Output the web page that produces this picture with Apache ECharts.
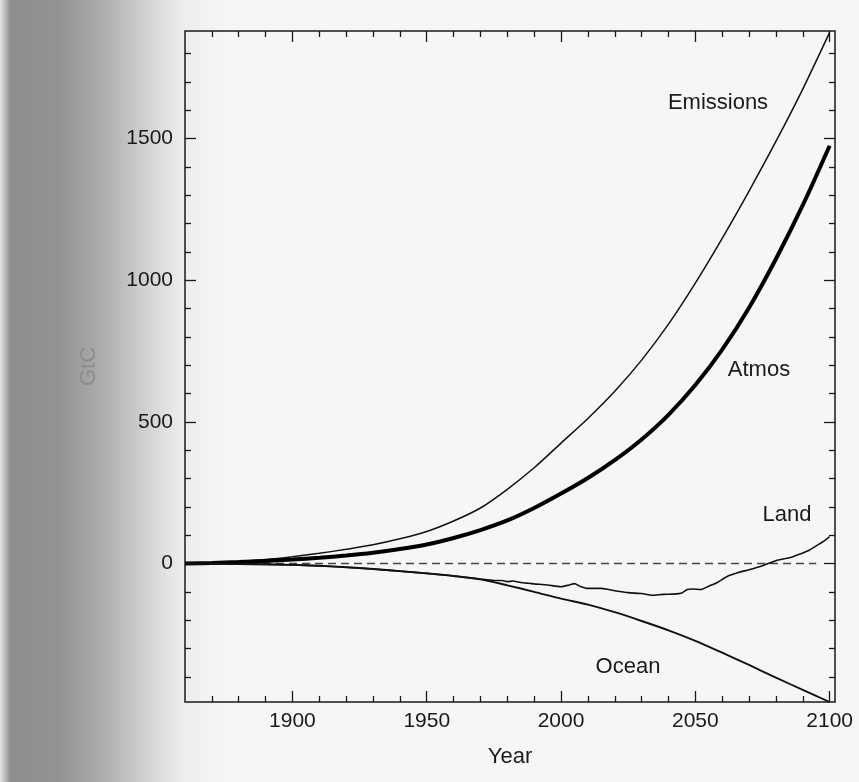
<!DOCTYPE html>
<html><head><meta charset="utf-8">
<script src="https://cdn.jsdelivr.net/npm/echarts@6/dist/echarts.min.js"></script>
<style>html,body{margin:0;padding:0;background:#fff}#c{width:859px;height:782px}</style>
</head><body><div id="c"></div>
<script>
// ---- data ----
const years = [1860,1870,1880,1890,1900,1910,1920,1930,1940,1950,1960,1970,1980,1990,2000,2010,2020,2030,2040,2050,2060,2070,2080,2090,2100];
const emissions = [0,3,7,14,24,36,50,66,87,113,150,196,262,338,425,512,608,718,845,990,1148,1315,1490,1675,1875];
const atmos = [0,2,5,9,14,20,28,38,51,67,90,118,152,196,247,302,365,438,525,630,755,903,1075,1265,1475];
const ocean = [0,-1,-2,-3,-5,-8,-13,-19,-27,-35,-44,-56,-77,-100,-124,-145,-172,-203,-236,-273,-315,-358,-403,-446,-489];
const landYears = [1860,1880,1900,1920,1940,1950,1960,1970,1975,1978,1980,1982,1985,1988,1990,1995,2000,2003,2005,2007,2010,2015,2020,2025,2030,2034,2038,2042,2045,2047,2049,2052,2055,2058,2062,2066,2070,2075,2080,2085,2088,2092,2095,2098,2100];
const land = [0,-2,-5,-13,-27,-35,-44,-55,-60,-60,-64,-62,-67,-70,-72,-76,-82,-76,-71,-80,-88,-88,-96,-103,-106,-112,-109,-108,-104,-92,-90,-92,-80,-68,-45,-32,-22,-8,10,20,30,45,62,80,95];
const zeroYears = [1860, 2095];
const zeroVals = [0, 0];
const xMajorTicks = [1900,1950,2000,2050,2100];
const xMinorTicks = [1870,1880,1890,1910,1920,1930,1940,1960,1970,1980,1990,2010,2020,2030,2040,2060,2070,2080,2090];
const yMajorTicks = [0,500,1000,1500];
const yMinorTicks = [-400,-300,-200,-100,100,200,300,400,600,700,800,900,1100,1200,1300,1400,1600,1700,1800];
const labels = [
  {text:'Emissions', x:718, y:103},
  {text:'Atmos', x:759, y:370},
  {text:'Land', x:787, y:515},
  {text:'Ocean', x:628, y:667}
];

const X_MIN = 1860, X_MAX = 2102, Y_MIN = -489, Y_MAX = 1880;
const FONT = '"Liberation Sans", Arial, sans-serif';
const pairs = (xs, ys) => xs.map((x, i) => [x, ys[i]]);

function xAx(pos, ticks, len, showLabel, name) {
  return {
    type: 'value', position: pos, min: X_MIN, max: X_MAX,
    name: name || '', nameLocation: 'middle', nameGap: 44,
    nameTextStyle: {fontFamily: FONT, fontSize: 22, color: '#1a1a1a'},
    axisLine: {show: false, onZero: false}, splitLine: {show: false},
    axisTick: {show: true, inside: true, length: len, customValues: ticks, lineStyle: {color: '#1a1a1a', width: 1.3}},
    axisLabel: {show: showLabel, customValues: ticks, margin: 9, fontFamily: FONT, fontSize: 21, color: '#1a1a1a', formatter: v => String(v)}
  };
}
function yAx(pos, ticks, len, showLabel, name) {
  return {
    type: 'value', position: pos, min: Y_MIN, max: Y_MAX,
    name: name || '', nameLocation: 'middle', nameGap: 85, nameRotate: 90,
    nameTextStyle: {fontFamily: FONT, fontSize: 22, color: '#8d8d8d'},
    axisLine: {show: false, onZero: false}, splitLine: {show: false},
    axisTick: {show: true, inside: true, length: len, customValues: ticks, lineStyle: {color: '#1a1a1a', width: 1.3}},
    axisLabel: {show: showLabel, customValues: ticks, margin: 12, fontFamily: FONT, fontSize: 21, color: '#1a1a1a', formatter: v => String(v)}
  };
}

const chart = echarts.init(document.getElementById('c'));
chart.setOption({
  animation: false,
  backgroundColor: new echarts.graphic.LinearGradient(0, 0, 1, 0, [
    {offset: 0, color: '#e6e6e6'},
    {offset: 0.012, color: '#8e8e8e'},
    {offset: 0.07, color: '#939393'},
    {offset: 0.116, color: '#aaaaaa'},
    {offset: 0.163, color: '#cdcdcd'},
    {offset: 0.21, color: '#ececec'},
    {offset: 0.26, color: '#f6f6f6'},
    {offset: 1, color: '#f6f6f6'}
  ]),
  grid: {left: 185, right: 24, top: 31, bottom: 80, show: true, borderColor: '#1a1a1a', borderWidth: 1.5, backgroundColor: 'transparent'},
  xAxis: [
    xAx('bottom', xMajorTicks, 11, true, 'Year'),
    xAx('bottom', xMinorTicks, 6, false),
    xAx('top', xMajorTicks, 11, false),
    xAx('top', xMinorTicks, 6, false)
  ],
  yAxis: [
    yAx('left', yMajorTicks, 11, true, 'GtC'),
    yAx('left', yMinorTicks, 6, false),
    yAx('right', yMajorTicks, 11, false),
    yAx('right', yMinorTicks, 6, false)
  ],
  graphic: labels.map(l => ({
    type: 'text', x: l.x, y: l.y,
    style: {text: l.text, fontFamily: FONT, fontSize: 22, fill: '#1a1a1a', align: 'center', verticalAlign: 'middle'}
  })),
  series: [
    {name: 'Zero', type: 'line', data: pairs(zeroYears, zeroVals), showSymbol: false,
     lineStyle: {color: '#444', width: 1.3, type: [8, 5]}},
    {name: 'Emissions', type: 'line', data: pairs(years, emissions), showSymbol: false, smooth: 0.3,
     lineStyle: {color: '#111', width: 1.5}},
    {name: 'Atmos', type: 'line', data: pairs(years, atmos), showSymbol: false, smooth: 0.3,
     lineStyle: {color: '#000', width: 4}},
    {name: 'Ocean', type: 'line', data: pairs(years, ocean), showSymbol: false, smooth: 0.3,
     lineStyle: {color: '#111', width: 1.9}},
    {name: 'Land', type: 'line', data: pairs(landYears, land), showSymbol: false, smooth: 0.2,
     lineStyle: {color: '#111', width: 1.6}}
  ]
});
</script></body></html>
